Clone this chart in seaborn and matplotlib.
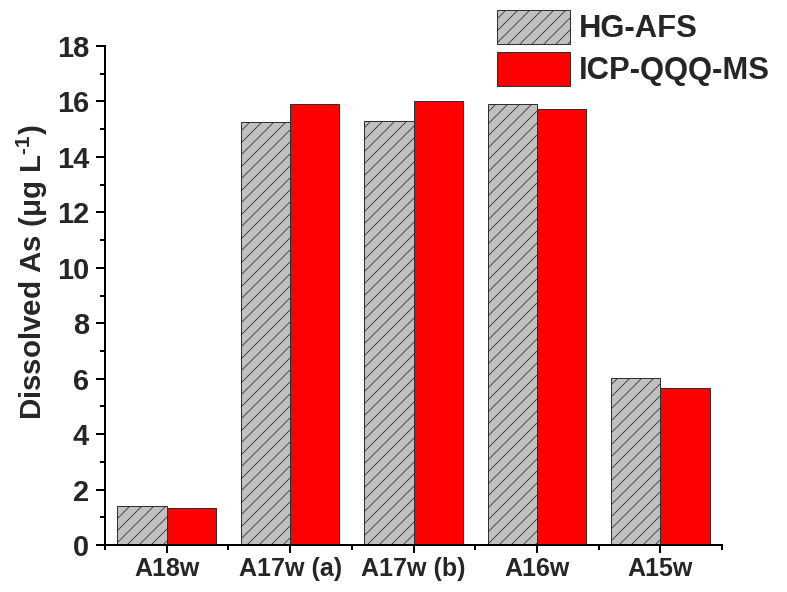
import matplotlib
matplotlib.use("Agg")
import matplotlib.pyplot as plt
import seaborn as sns
import pandas as pd
from matplotlib.patches import Patch
from matplotlib.ticker import MultipleLocator

# Sample sites and dissolved arsenic concentrations (µg/L) by method
sites = ["A18w", "A17w (a)", "A17w (b)", "A16w", "A15w"]
methods = ["HG-AFS", "ICP-QQQ-MS"]
hg_afs = [1.40, 15.25, 15.30, 15.90, 6.02]
icp_qqq_ms = [1.35, 15.90, 16.01, 15.72, 5.65]

df = pd.DataFrame({
    "site": sites * 2,
    "method": [methods[0]] * len(sites) + [methods[1]] * len(sites),
    "value": hg_afs + icp_qqq_ms,
})

sns.set_style("ticks")
plt.rcParams["font.family"] = ["Liberation Sans", "DejaVu Sans"]
plt.rcParams["font.weight"] = "bold"
plt.rcParams["mathtext.fontset"] = "custom"
plt.rcParams["mathtext.rm"] = "Liberation Sans:bold"
plt.rcParams["mathtext.bf"] = "Liberation Sans:bold"
plt.rcParams["mathtext.it"] = "Liberation Sans:bold"
plt.rcParams["hatch.linewidth"] = 0.8

DPI = 72
W, H = 787, 592
fig = plt.figure(figsize=(W / DPI, H / DPI), dpi=DPI)
ax = fig.add_axes([105 / W, 1 - 545 / H, (722 - 105) / W, (545 - 46) / H])

palette = {"HG-AFS": "#c0c0c0", "ICP-QQQ-MS": "#ff0000"}
sns.barplot(data=df, x="site", y="value", hue="method", order=sites,
            hue_order=methods, palette=palette, width=0.8, saturation=1,
            edgecolor="#303030", linewidth=1.0, ax=ax, legend=False)

# hatch the HG-AFS bars
for bar in ax.patches[:len(sites)]:
    bar.set_hatch("//")

ax.set_ylim(0, 18)
ax.set_xlim(-0.5, 4.5)
ax.yaxis.set_major_locator(MultipleLocator(2))
ax.yaxis.set_minor_locator(MultipleLocator(1))
ax.xaxis.set_minor_locator(MultipleLocator(1, offset=0.5))

for side in ("top", "right"):
    ax.spines[side].set_visible(False)
for side in ("left", "bottom"):
    ax.spines[side].set_linewidth(2)
    ax.spines[side].set_color("black")

ax.tick_params(axis="both", which="major", direction="out", length=9, width=2,
               color="black")
ax.tick_params(axis="both", which="minor", direction="out", length=5, width=2,
               color="black")
ax.tick_params(axis="y", pad=7, labelsize=29)
ax.tick_params(axis="x", which="major", length=8, pad=4, labelsize=25)
for lab in ax.get_xticklabels() + ax.get_yticklabels():
    lab.set_fontweight("bold")

ax.set_xlabel("")
ax.set_ylabel(r"Dissolved As (μg L$^{\text{-1}}$)", fontsize=29.5,
              fontweight="bold")
ax.yaxis.set_label_coords(-0.089, 0.547)

handles = [
    Patch(facecolor=palette["HG-AFS"], edgecolor="#303030", hatch="//",
          linewidth=1.0, label="HG-AFS"),
    Patch(facecolor=palette["ICP-QQQ-MS"], edgecolor="#303030",
          linewidth=1.0, label="ICP-QQQ-MS"),
]
fig.legend(handles=handles, loc="upper left",
           bbox_to_anchor=(497 / W, 1 - 10 / H), frameon=False,
           prop={"size": 31, "weight": "bold"}, handlelength=2.35,
           handleheight=1.3, labelspacing=0.24, handletextpad=0.3,
           borderpad=0.0, borderaxespad=0.0)

fig.savefig("out.png", dpi=DPI)
